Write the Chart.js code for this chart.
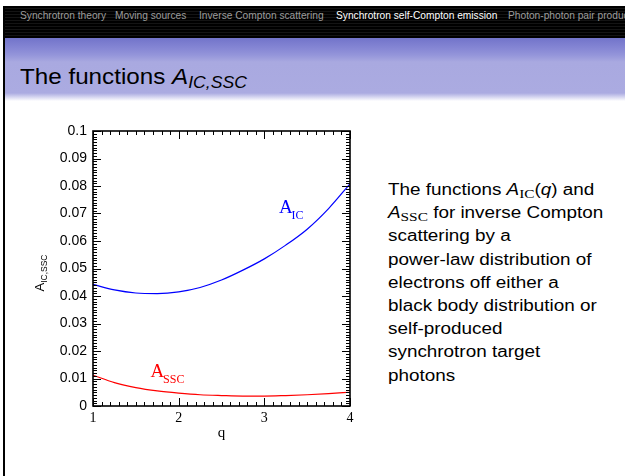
<!DOCTYPE html>
<html>
<head>
<meta charset="utf-8">
<script src="https://cdn.jsdelivr.net/npm/chart.js@4.4.0/dist/chart.umd.min.js"></script>
<style>
body{margin:0;width:625px;height:476px;overflow:hidden;background:#fff;position:relative;font-family:"Liberation Sans",Arial,sans-serif}
#edge{position:absolute;left:3px;top:6px;width:2px;bottom:0;background:#000}
#nav{position:absolute;left:4px;top:6px;right:0;height:32px;overflow:hidden;background:repeating-linear-gradient(#000 0 2px,#141414 2px 3px)}
#nav span{position:absolute;top:4px;font-size:10.2px;color:#9c9c9c;white-space:nowrap}
#nav span.on{color:#fff}
#band{position:absolute;left:5px;right:0;top:38px;height:64px;background:linear-gradient(#7274ca 0px,#8586d4 10px,#9495da 17px,#a9a9e0 24px,#ababe1 55px,#fff 63px)}
#title{position:absolute;left:20px;top:64px;font-size:22px;color:#000;white-space:nowrap;transform:scaleX(1.1);transform-origin:left}
#title sub{font-size:16px;font-style:italic;vertical-align:-4px;line-height:0}
#desc{position:absolute;left:388px;top:178px;font-size:16px;line-height:23.2px;color:#000;white-space:nowrap;transform:scaleX(1.18);transform-origin:left}
#desc sub{font-family:"Liberation Serif",serif;font-size:13px;vertical-align:-3px;line-height:0}
#wrap{position:absolute;left:30px;top:115px;width:340px;height:335px}
</style>
</head>
<body>
<div id="nav">
<span style="left:16px">Synchrotron theory</span>
<span style="left:111px">Moving sources</span>
<span style="left:195px">Inverse Compton scattering</span>
<span style="left:332px" class="on">Synchrotron self-Compton emission</span>
<span style="left:504px">Photon-photon pair production</span>
</div>
<div id="edge"></div>
<div id="band"></div>
<div id="title">The functions <i>A</i><sub>IC,SSC</sub></div>
<div id="desc">The functions <i>A</i><sub>IC</sub>(<i>q</i>) and<br><i>A</i><sub>SSC</sub> for inverse Compton<br>scattering by a<br>power-law distribution of<br>electrons off either a<br>black body distribution or<br>self-produced<br>synchrotron target<br>photons</div>
<div id="wrap"><canvas id="chart"></canvas></div>
<script>
const qValues = [1, 1.25, 1.5, 1.75, 2, 2.25, 2.5, 2.75, 3, 3.25, 3.5, 3.75, 4];
const aIC = [0.0442, 0.0422, 0.0411, 0.0409, 0.0415, 0.0431, 0.0458, 0.0494, 0.0535, 0.0585, 0.0643, 0.0718, 0.0808];
const aSSC = [0.0112, 0.0085, 0.0067, 0.0055, 0.0047, 0.0041, 0.0038, 0.0036, 0.0036, 0.0038, 0.0041, 0.0045, 0.0050];
const yTicks = [0, 0.01, 0.02, 0.03, 0.04, 0.05, 0.06, 0.07, 0.08, 0.09, 0.1];
const yTickLabels = ["0", "0.01", "0.02", "0.03", "0.04", "0.05", "0.06", "0.07", "0.08", "0.09", "0.1"];
const xTicks = [1, 2, 3, 4];
const xTickLabels = ["1", "2", "3", "4"];
const curveLabels = [
    {text: "A", sub: "IC", q: 3.17, v: 0.0702, color: "#0000ff"},
    {text: "A", sub: "SSC", q: 1.67, v: 0.0106, color: "#ff0000"}
];

// inward ticks on all four sides + frame, like the original plot
const frameTicks = {
    id: "frameTicks",
    afterDraw(chart) {
        const ctx = chart.ctx;
        const a = chart.chartArea;
        const x = chart.scales.x, y = chart.scales.y;
        ctx.save();
        ctx.strokeStyle = "#000";
        ctx.lineWidth = 1;
        ctx.beginPath();
        for (let k = 0; k <= 100; k++) {
            const py = Math.round(y.getPixelForValue(k / 1000)) + 0.5;
            const len = k % 10 === 0 ? 8 : 4;
            ctx.moveTo(a.left, py); ctx.lineTo(a.left + len, py);
            ctx.moveTo(a.right, py); ctx.lineTo(a.right - len, py);
        }
        for (let k = 0; k <= 30; k++) {
            const px = Math.round(x.getPixelForValue(1 + k / 10)) + 0.5;
            const len = k % 10 === 0 ? 8 : 4;
            ctx.moveTo(px, a.bottom); ctx.lineTo(px, a.bottom - len);
            ctx.moveTo(px, a.top); ctx.lineTo(px, a.top + len);
        }
        ctx.stroke();
        ctx.lineWidth = 1.6;
        ctx.strokeRect(a.left, a.top, a.right - a.left, a.bottom - a.top);

        // y axis title A_IC,SSC (rotated)
        ctx.translate(a.left - 53, a.top + 142);
        ctx.rotate(-Math.PI / 2);
        ctx.fillStyle = "#000";
        ctx.textBaseline = "alphabetic";
        ctx.font = "13px 'Liberation Sans'";
        const wA = ctx.measureText("A").width;
        ctx.font = "8.5px 'Liberation Sans'";
        const wS = ctx.measureText("IC,SSC").width;
        const sx = -(wA + wS) / 2;
        ctx.font = "13px 'Liberation Sans'";
        ctx.fillText("A", sx, 4);
        ctx.font = "8.5px 'Liberation Sans'";
        ctx.fillText("IC,SSC", sx + wA, 7);
        ctx.restore();
    },
    afterDatasetsDraw(chart) {
        const ctx = chart.ctx;
        const x = chart.scales.x, y = chart.scales.y;
        ctx.save();
        ctx.textBaseline = "alphabetic";
        curveLabels.forEach(l => {
            const px = x.getPixelForValue(l.q), py = y.getPixelForValue(l.v);
            ctx.fillStyle = l.color;
            ctx.font = "19px 'Liberation Serif'";
            ctx.fillText(l.text, px, py);
            const w = ctx.measureText(l.text).width;
            ctx.font = "12px 'Liberation Serif'";
            ctx.fillText(l.sub, px + w - 1, py + 6);
        });
        ctx.restore();
    }
};

const chart = new Chart(document.getElementById("chart"), {
    type: "line",
    data: {
        datasets: [
            {
                label: "A_IC",
                data: qValues.map((q, i) => ({x: q, y: aIC[i]})),
                borderColor: "#0000ff",
                borderWidth: 1.2,
                pointRadius: 0,
                cubicInterpolationMode: "monotone"
            },
            {
                label: "A_SSC",
                data: qValues.map((q, i) => ({x: q, y: aSSC[i]})),
                borderColor: "#ff0000",
                borderWidth: 1.2,
                pointRadius: 0,
                cubicInterpolationMode: "monotone"
            }
        ]
    },
    options: {
        responsive: true,
        maintainAspectRatio: false,
        animation: false,
        layout: {padding: {top: 16, right: 20, left: 0, bottom: 0}},
        plugins: {legend: {display: false}, tooltip: {enabled: false}},
        scales: {
            x: {
                type: "linear",
                min: 1,
                max: 4,
                afterBuildTicks: s => { s.ticks = xTicks.map(v => ({value: v})); },
                afterFit: s => { s.height = 44; },
                ticks: {
                    callback: (v, i) => xTickLabels[i],
                    font: {family: "'Liberation Serif'", size: 14},
                    color: "#000",
                    padding: 4,
                    maxRotation: 0
                },
                grid: {display: false, drawTicks: false},
                border: {display: false},
                title: {
                    display: true,
                    text: "q",
                    font: {family: "'Liberation Serif'", size: 15},
                    color: "#000",
                    padding: {top: 0, bottom: 8}
                }
            },
            y: {
                min: 0,
                max: 0.1,
                afterBuildTicks: s => { s.ticks = yTicks.map(v => ({value: v})); },
                afterFit: s => { s.width = 63; },
                ticks: {
                    callback: (v, i) => yTickLabels[i],
                    font: {family: "'Liberation Sans'", size: 14},
                    color: "#000",
                    padding: 6
                },
                grid: {display: false, drawTicks: false},
                border: {display: false}
            }
        }
    },
    plugins: [frameTicks]
});
</script>
</body>
</html>
